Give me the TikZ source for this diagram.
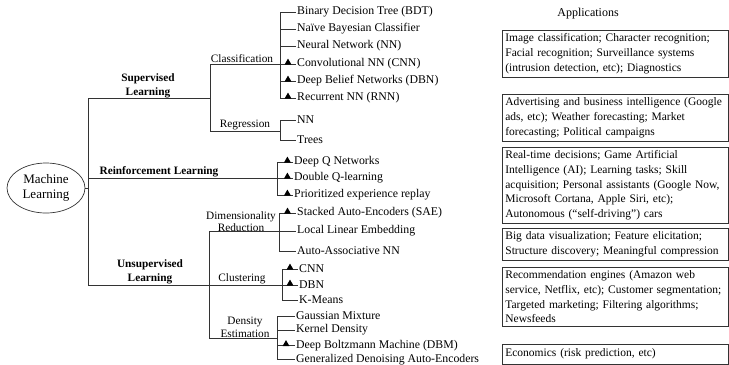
\documentclass[tikz,border=0pt]{standalone}
\usepackage{fontspec}
\setmainfont{Liberation Serif}
\usetikzlibrary{shapes.geometric}
\tikzstyle{mlroot} = [ellipse, draw=black!80, line width=0.7bp, minimum width=78bp, minimum height=50bp, inner sep=0pt, align=center, font=\fontsize{13bp}{15bp}\selectfont]
\tikzstyle{catlabel} = [anchor=south, align=center, inner sep=1bp, font=\fontsize{11.3bp}{12.5bp}\selectfont]
\tikzstyle{mllabel} = [anchor=south, align=center, inner sep=0.5bp, font=\bfseries\fontsize{11.3bp}{14bp}\selectfont]
\tikzstyle{leafnode} = [anchor=west, inner sep=1bp, font=\fontsize{11.8bp}{13bp}\selectfont]
\tikzstyle{wire} = [draw=black!80, line width=0.7bp]
\tikzstyle{trimark} = [regular polygon, regular polygon sides=3, fill=black, inner sep=0pt, minimum size=8bp, yshift=1.4bp]
\tikzstyle{appbox} = [rectangle, draw=black!80, line width=0.7bp, anchor=north west, text width=220bp, inner xsep=3bp, inner ysep=0pt, align=left, font=\fontsize{11.5bp}{14.8bp}\selectfont]

\begin{document}
\begin{tikzpicture}[x=1bp, y=-1bp]
        \useasboundingbox (0,0) rectangle (729,364);

        \node (ml) [mlroot] at (46,188) {Machine\\Learning};
        \coordinate (trunktop) at (88,98);
        \coordinate (trunkbot) at (88,285);
        \draw [wire] (ml.east) -- (ml.east -| trunktop);
        \draw [wire] (trunktop) -- (trunkbot);

        \coordinate (cls) at (210,64);
        \coordinate (reg) at (210,131);
        \node (suplbl) [mllabel] at (148,99) {Supervised\\Learning};
        \draw [wire] (trunktop) -- (trunktop -| cls);
        \draw [wire] (cls) -- (reg);

        \coordinate (clsbus) at (280,64);
        \node (clslbl) [catlabel] at (242,64) {Classification};
        \node (bdt) [leafnode] at (296,12) {Binary Decision Tree (BDT)};
        \node (nbc) [leafnode] at (296,29) {Naïve Bayesian Classifier};
        \node (nn) [leafnode] at (296,46) {Neural Network (NN)};
        \node (cnn) [leafnode] at (296,64) {Convolutional NN (CNN)};
        \node (dbn) [leafnode] at (296,81) {Deep Belief Networks (DBN)};
        \node (rnn) [leafnode] at (296,98) {Recurrent NN (RNN)};
        \draw [wire] (cls) -- (clsbus);
        \draw [wire] (clsbus |- bdt) -- (clsbus |- rnn);
        \draw [wire] (clsbus |- bdt) -- (bdt);
        \draw [wire] (clsbus |- nbc) -- (nbc);
        \draw [wire] (clsbus |- nn) -- (nn);
        \draw [wire] (clsbus |- cnn) -- node[trimark]{} (cnn);
        \draw [wire] (clsbus |- dbn) -- node[trimark]{} (dbn);
        \draw [wire] (clsbus |- rnn) -- node[trimark]{} (rnn);

        \coordinate (regbus) at (280,131);
        \node (reglbl) [catlabel] at (245,131) {Regression};
        \node (regnn) [leafnode] at (296,120) {NN};
        \node (trees) [leafnode] at (296,140) {Trees};
        \draw [wire] (reg) -- (regbus);
        \draw [wire] (regbus |- regnn) -- (regbus |- trees);
        \draw [wire] (regbus |- regnn) -- (regnn);
        \draw [wire] (regbus |- trees) -- (trees);

        \coordinate (rlbus) at (277,178);
        \node (rllbl) [mllabel] at (159,177.5) {Reinforcement Learning};
        \node (dqn) [leafnode] at (293,162) {Deep Q Networks};
        \node (ddqn) [leafnode] at (293,178) {Double Q-learning};
        \node (per) [leafnode] at (293,195) {Prioritized experience replay};
        \draw [wire] (trunktop |- rlbus) -- (rlbus);
        \draw [wire] (rlbus |- dqn) -- (rlbus |- per);
        \draw [wire] (rlbus |- dqn) -- node[trimark, pos=0.65]{} (dqn);
        \draw [wire] (rlbus) -- node[trimark, pos=0.65]{} (ddqn);
        \draw [wire] (rlbus |- per) -- node[trimark, pos=0.65]{} (per);

        \coordinate (dim) at (209,231);
        \coordinate (den) at (209,338);
        \node (unsuplbl) [mllabel] at (150,285) {Unsupervised\\Learning};
        \draw [wire] (trunkbot) -- (trunkbot -| dim);
        \draw [wire] (dim) -- (den);

        \coordinate (dimbus) at (279,231);
        \node (dimlbl) [catlabel, inner sep=0pt] at (241,232) {Dimensionality\\Reduction};
        \node (sae) [leafnode] at (296,213) {Stacked Auto-Encoders (SAE)};
        \node (lle) [leafnode] at (296,231) {Local Linear Embedding};
        \node (aann) [leafnode] at (296,251) {Auto-Associative NN};
        \draw [wire] (dim) -- (dimbus);
        \draw [wire] (dimbus |- sae) -- (dimbus |- aann);
        \draw [wire] (dimbus |- sae) -- node[trimark]{} (sae);
        \draw [wire] (dimbus) -- (lle);
        \draw [wire] (dimbus |- aann) -- (aann);

        \coordinate (clubus) at (282,285);
        \node (clulbl) [catlabel] at (242,285) {Clustering};
        \node (ccnn) [leafnode] at (298,269) {CNN};
        \node (cdbn) [leafnode] at (298,285) {DBN};
        \node (kmeans) [leafnode] at (298,300) {K-Means};
        \draw [wire] (trunkbot -| dim) -- (clubus);
        \draw [wire] (clubus |- ccnn) -- (clubus |- kmeans);
        \draw [wire] (clubus |- ccnn) -- node[trimark]{} (ccnn);
        \draw [wire] (clubus) -- node[trimark]{} (cdbn);
        \draw [wire] (clubus |- kmeans) -- (kmeans);

        \coordinate (denbus) at (277,338);
        \node (denlbl) [catlabel] at (245,338.5) {Density\\Estimation};
        \node (gm) [leafnode] at (295,316) {Gaussian Mixture};
        \node (kd) [leafnode] at (295,330) {Kernel Density};
        \node (dbm) [leafnode] at (295,345.5) {Deep Boltzmann Machine (DBM)};
        \node (gdae) [leafnode] at (295,359.5) {Generalized Denoising Auto-Encoders};
        \draw [wire] (den) -- (denbus);
        \draw [wire] (denbus |- gm) -- (denbus |- gdae);
        \draw [wire] (denbus |- gm) -- (gm);
        \draw [wire] (denbus |- kd) -- (kd);
        \draw [wire] (denbus |- dbm) -- node[trimark]{} (dbm);
        \draw [wire] (denbus |- gdae) -- (gdae);

        \node (apptitle) [font=\fontsize{12bp}{14bp}\selectfont] at (588,14) {Applications};
        \node (appone) [appbox, minimum height=47bp] at (502,30) {Image classification; Character recognition;\\Facial recognition; Surveillance systems\\(intrusion detection, etc); Diagnostics};
        \node (apptwo) [appbox, minimum height=47bp] at (502,94) {Advertising and business intelligence (Google\\ads, etc); Weather forecasting; Market\\forecasting; Political campaigns};
        \node (appthree) [appbox, minimum height=76bp] at (502,147) {Real-time decisions; Game Artificial\\Intelligence (AI); Learning tasks; Skill\\acquisition; Personal assistants (Google Now,\\Microsoft Cortana, Apple Siri, etc);\\Autonomous (“self-driving”) cars};
        \node (appfour) [appbox, minimum height=32bp] at (502,228) {Big data visualization; Feature elicitation;\\Structure discovery; Meaningful compression};
        \node (appfive) [appbox, minimum height=59bp] at (502,267) {Recommendation engines (Amazon web\\service, Netflix, etc); Customer segmentation;\\Targeted marketing; Filtering algorithms;\\Newsfeeds};
        \node (appsix) [appbox, minimum height=19.5bp] at (502,344) {Economics (risk prediction, etc)};

    \end{tikzpicture}
\end{document}
